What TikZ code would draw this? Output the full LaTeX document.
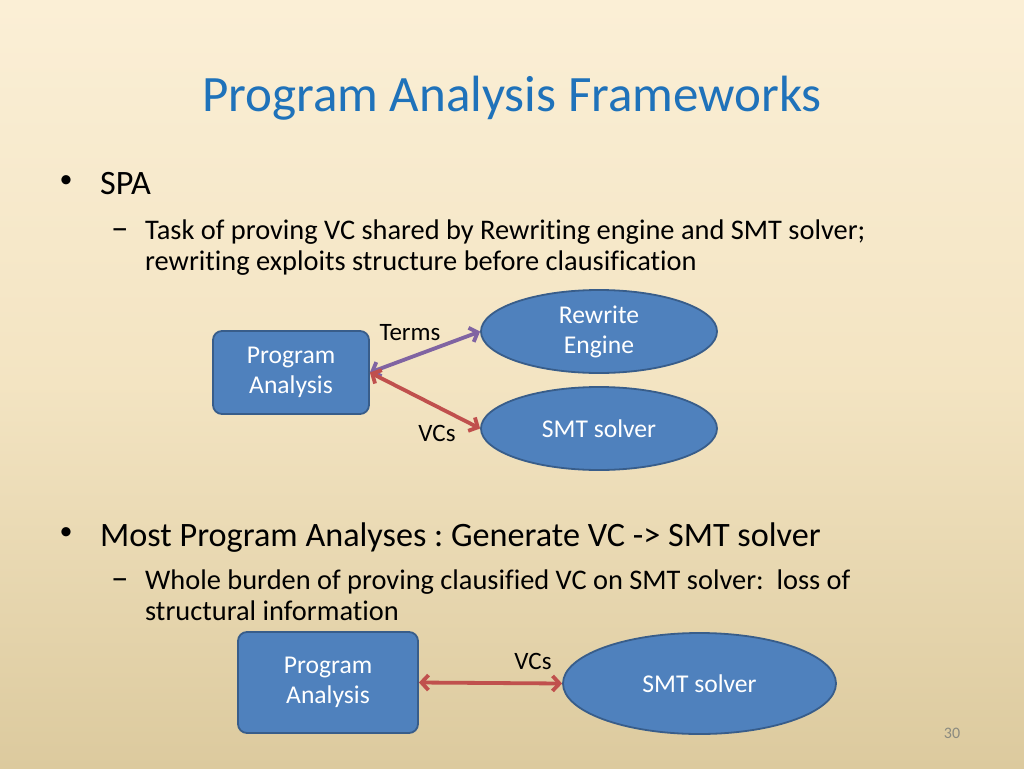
\documentclass[tikz,border=0pt]{standalone}
\usepackage{fontspec}
\setmainfont{Carlito}[Ligatures={NoCommon,NoContextual}]
\usetikzlibrary{shapes.geometric,arrows.meta}
\frenchspacing
\definecolor{bgtop}{HTML}{FBEFD6}
\definecolor{bgmid}{HTML}{F3E4C2}
\definecolor{bgbot}{HTML}{DCCA9E}
\definecolor{titleblue}{HTML}{1F72BA}
\definecolor{boxfill}{HTML}{4F81BD}
\definecolor{boxline}{HTML}{385D8A}
\definecolor{arrpurple}{HTML}{8064A2}
\definecolor{arrred}{HTML}{C0504D}
\definecolor{pagegray}{HTML}{8A8A80}
\tikzset{
  boxnode/.style={draw=boxline, line width=1.8pt, fill=boxfill, rounded corners=9pt, text=white, align=center, font=\fontsize{25.6}{30}\selectfont, inner sep=0pt},
  ellnode/.style={ellipse, draw=boxline, line width=1.8pt, fill=boxfill, text=white, align=center, font=\fontsize{25.6}{30}\selectfont, inner sep=0pt},
  conn/.style={line width=3.8pt, {Straight Barb[length=7pt,width=15pt]}-{Straight Barb[length=7pt,width=15pt]}},
  lbl/.style={font=\fontsize{25}{28}\selectfont, text=black, inner sep=0pt},
  lvlone/.style={anchor=base west, font=\fontsize{34.2}{40}\selectfont, inner sep=0pt, text=black},
  lvltwo/.style={anchor=base west, font=\fontsize{28.4}{34}\selectfont, inner sep=0pt, text=black},
  dashmark/.style={anchor=base west, font=\fontsize{35}{38}\selectfont, inner sep=0pt, text=black},
  bulletmark/.style={font=\fontsize{26}{30}\selectfont, inner sep=0pt, text=black},
}
\begin{document}
\begin{tikzpicture}[x=1pt,y=-1pt]
\shade[top color=bgtop, bottom color=bgbot, middle color=bgmid] (0,0) rectangle (1024,768);
\useasboundingbox (0,0) rectangle (1024,768);
\node[font=\fontsize{51}{54}\selectfont, text=titleblue, inner sep=0pt] (title) at (512,98) {Program Analysis Frameworks};
% bullets
\node[bulletmark] (b1) at (66,182) {•};
\node[lvlone] (t1) at (100,194) {SPA};
\node[dashmark] (d1) at (111,239) {–};
\node[lvltwo] (t2) at (145,239) {Task of proving VC shared by Rewriting engine and SMT solver;};
\node[lvltwo] (t3) at (145,270) {rewriting exploits structure before clausification};
\node[bulletmark] (b2) at (66,534) {•};
\node[lvlone] (t4) at (100,546) {Most Program Analyses : Generate VC -> SMT solver};
\node[dashmark] (d2) at (111,589) {–};
\node[lvltwo] (t5) at (145,589) {Whole burden of proving clausified VC on SMT solver:\ \ loss of};
\node[lvltwo] (t6) at (145,620) {structural information};
% top diagram
\node[boxnode, minimum width=156pt, minimum height=83pt] (pa) at (291,372.5) {Program\\Analysis};
\node[ellnode, minimum width=236pt, minimum height=83pt] (re) at (599,331.5) {Rewrite\\Engine};
\node[ellnode, minimum width=236pt, minimum height=83pt] (smt) at (599,428.5) {SMT solver};
\draw[conn, arrpurple] (pa.east) -- (re.west);
\draw[conn, arrred] (pa.east) -- (smt.west);
\node[lbl] (terms) at (410,333) {Terms};
\node[lbl] (vcs1) at (437,433) {VCs};
% bottom diagram
\node[boxnode, minimum width=180pt, minimum height=101pt] (pa2) at (328,682.5) {Program\\Analysis};
\node[ellnode, minimum width=273pt, minimum height=101pt] (smt2) at (699.5,683.5) {SMT solver};
\draw[conn, arrred] (pa2.east) -- (smt2.west);
\node[lbl] (vcs2) at (533,661) {VCs};
\node[font=\fontsize{16}{18}\selectfont, text=pagegray, inner sep=0pt] (pg) at (952,733) {30};
\end{tikzpicture}
\end{document}
